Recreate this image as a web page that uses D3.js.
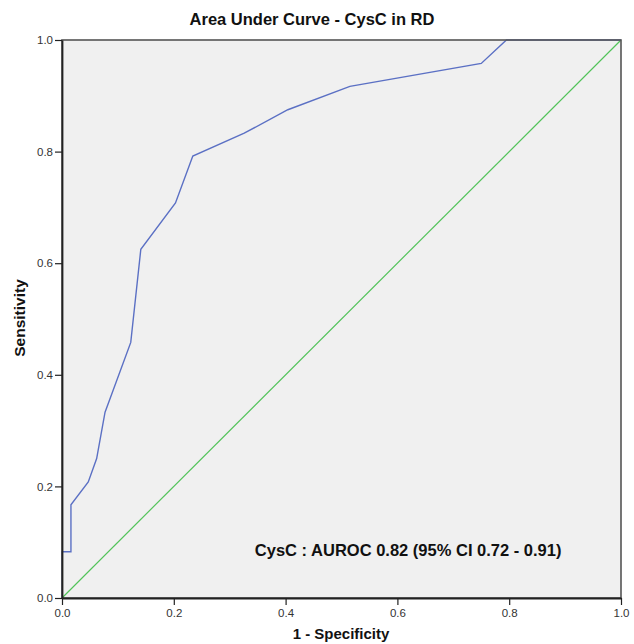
<!DOCTYPE html>
<html>
<meta charset="utf-8">
<style>
  body { margin: 0; background: #fff; }
  svg { width: 634px; height: 644px; display: block; }
  text { font-family: "Liberation Sans", Arial, sans-serif; }
</style>
<body>
  <svg></svg>
</body>
<script src="https://d3js.org/d3.v7.min.js"></script>
<script>

  var margin = {top: 40, right: 13, bottom: 46, left: 62},
      width = 634 - margin.left - margin.right,
      height = 644 - margin.top - margin.bottom;

  // ROC curve points: 1 - specificity, sensitivity
  var fpr = [0, 0, 0.016, 0.016, 0.047, 0.062, 0.077, 0.123, 0.141, 0.203, 0.234, 0.326, 0.404, 0.515, 0.75, 0.795, 1];
  var tpr = [0, 0.083, 0.083, 0.167, 0.208, 0.25, 0.333, 0.458, 0.625, 0.708, 0.792, 0.833, 0.875, 0.917, 0.958, 1, 1];
  var refLine = [[0, 0], [1, 1]];
  var tickVals = [0, 0.2, 0.4, 0.6, 0.8, 1.0];

  var svg = d3.select("svg").append("g").attr("transform", "translate(" + margin.left + "," + margin.top + ")");

  var xScale = d3.scaleLinear().domain([0, 1]).range([0, width]);
  var yScale = d3.scaleLinear().domain([0, 1]).range([height, 0]);

  // plot background
  svg.append("rect")
    .attr("width", width).attr("height", height)
    .attr("fill", "#f0f0f0");

  var line = d3.line().x(function(d) { return xScale(d[0]); }).y(function(d) { return yScale(d[1]); });

  svg.append("path").datum(refLine)
    .attr("d", line).attr("fill", "none")
    .attr("stroke", "#52c35a").attr("stroke-width", 1.2);

  var rocPts = fpr.map(function(v, i) { return [v, tpr[i]]; });
  svg.append("path").datum(rocPts)
    .attr("d", line).attr("fill", "none")
    .attr("stroke", "#5b70c4").attr("stroke-width", 1.4);

  // frame on top of curves
  svg.append("rect")
    .attr("width", width).attr("height", height)
    .attr("fill", "none").attr("stroke", "#555").attr("stroke-width", 1.6);

  var xAxis = d3.axisBottom(xScale).tickValues(tickVals).tickFormat(d3.format(".1f")).tickSize(7).tickPadding(4).tickSizeOuter(0);
  var gx = svg.append("g").attr("transform", "translate(0," + height + ")").call(xAxis);

  var yAxis = d3.axisLeft(yScale).tickValues(tickVals).tickFormat(d3.format(".1f")).tickSize(7).tickPadding(2).tickSizeOuter(0);
  var gy = svg.append("g").call(yAxis);

  [gx, gy].forEach(function(g) {
    g.select(".domain").attr("stroke", "#222").attr("stroke-width", 1.8);
    g.selectAll(".tick line").attr("stroke", "#222").attr("stroke-width", 1.2);
    g.selectAll(".tick text").attr("fill", "#333").attr("font-size", "11.5px")
      .attr("font-family", "Liberation Sans, Arial, sans-serif");
  });

  // title
  d3.select("svg").append("text")
    .attr("x", 312).attr("y", 25)
    .attr("text-anchor", "middle")
    .attr("font-size", "16.5px").attr("font-weight", "bold").attr("fill", "#111")
    .text("Area Under Curve - CysC in RD");

  // axis titles
  d3.select("svg").append("text")
    .attr("x", 341).attr("y", 639)
    .attr("text-anchor", "middle")
    .attr("font-size", "15px").attr("font-weight", "bold").attr("fill", "#111")
    .text("1 - Specificity");

  d3.select("svg").append("text")
    .attr("transform", "translate(25,318) rotate(-90)")
    .attr("text-anchor", "middle")
    .attr("font-size", "15.5px").attr("font-weight", "bold").attr("fill", "#111")
    .text("Sensitivity");

  // annotation
  svg.append("text")
    .attr("x", xScale(0.345)).attr("y", yScale(0.075))
    .attr("font-size", "16.5px").attr("font-weight", "bold").attr("fill", "#111")
    .text("CysC : AUROC 0.82 (95% CI 0.72 - 0.91)");

</script>
</html>
